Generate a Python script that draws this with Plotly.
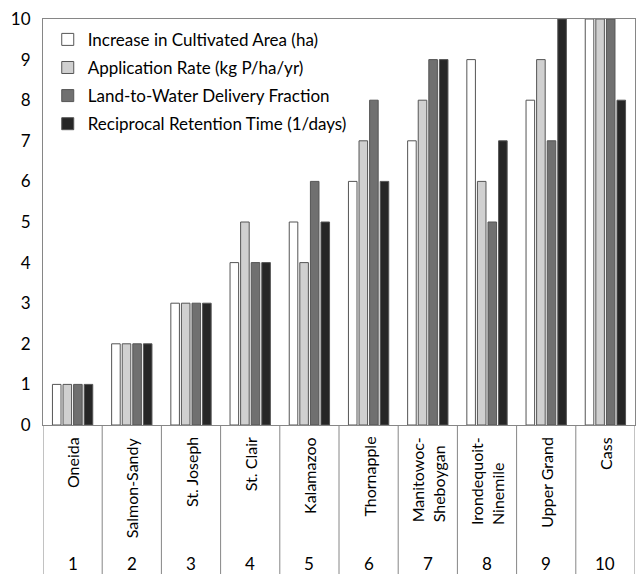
import plotly.graph_objects as go

categories = ["Oneida", "Salmon-Sandy", "St. Joseph", "St. Clair", "Kalamazoo",
              "Thornapple", "Manitowoc-<br>Sheboygan", "Irondequoit-<br>Ninemile",
              "Upper Grand", "Cass"]
ranks = [1, 2, 3, 4, 5, 6, 7, 8, 9, 10]

series_names = ["Increase in Cultivated Area (ha)",
                "Application Rate (kg P/ha/yr)",
                "Land-to-Water Delivery Fraction",
                "Reciprocal Retention Time (1/days)"]
cultivated_area = [1, 2, 3, 4, 5, 6, 7, 9, 8, 10]
application_rate = [1, 2, 3, 5, 4, 7, 8, 6, 9, 10]
delivery_fraction = [1, 2, 3, 4, 6, 8, 9, 5, 7, 10]
retention_time = [1, 2, 3, 4, 5, 6, 9, 7, 10, 8]
series_values = [cultivated_area, application_rate, delivery_fraction, retention_time]
colors = ["#FFFFFF", "#D0D0D0", "#707070", "#262626"]

FONT = "Lato"
AXIS_COLOR = "#868686"

fig = go.Figure()
for i, (name, vals) in enumerate(zip(series_names, series_values)):
    fig.add_trace(go.Bar(
        x=ranks, y=vals, name=name, legendgroup=f"g{i}",
        marker=dict(color=colors[i], line=dict(color="#555555", width=1)),
    ))

bottom = -0.37
shapes = []
for k in range(len(ranks) + 1):
    shapes.append(dict(type="line", xref="x", yref="paper",
                       x0=k + 0.5, x1=k + 0.5, y0=0, y1=bottom,
                       line=dict(color=AXIS_COLOR, width=1)))

annotations = []
for r, c in zip(ranks, categories):
    annotations.append(dict(xref="x", yref="paper", x=r, y=0, yshift=-10,
                            text=c, textangle=-90, showarrow=False,
                            xanchor="center", yanchor="top", align="left",
                            font=dict(family=FONT, size=16, color="#000000")))
    annotations.append(dict(xref="x", yref="paper", x=r, y=-0.34,
                            text=str(r), showarrow=False,
                            xanchor="center", yanchor="middle",
                            font=dict(family=FONT, size=17, color="#000000")))

fig.update_layout(
    width=638, height=574,
    margin=dict(l=43, r=3, t=19, b=149),
    paper_bgcolor="white", plot_bgcolor="white",
    barmode="group", bargap=0.285, bargroupgap=0.19,
    font=dict(family=FONT, size=16, color="#000000"),
    xaxis=dict(range=[0.5, 10.5], showticklabels=False, ticks="",
               showgrid=False, zeroline=False, showline=True, mirror=True,
               linecolor=AXIS_COLOR, linewidth=1, fixedrange=True),
    yaxis=dict(range=[0, 10], dtick=1, showgrid=False, zeroline=False,
               showline=True, mirror=True, linecolor=AXIS_COLOR, linewidth=1,
               ticks="", ticklabelstandoff=8,
               tickfont=dict(family=FONT, size=17, color="#000000")),
    legend=dict(x=0.008, y=0.993, xanchor="left", yanchor="top",
                bgcolor="rgba(0,0,0,0)", tracegroupgap=3,
                font=dict(family=FONT, size=17, color="#000000")),
    showlegend=True,
    shapes=shapes,
    annotations=annotations,
)

fig.write_html("out.html", config={"displayModeBar": False},
               post_script="document.body.style.margin='0';document.body.style.overflow='hidden';")
